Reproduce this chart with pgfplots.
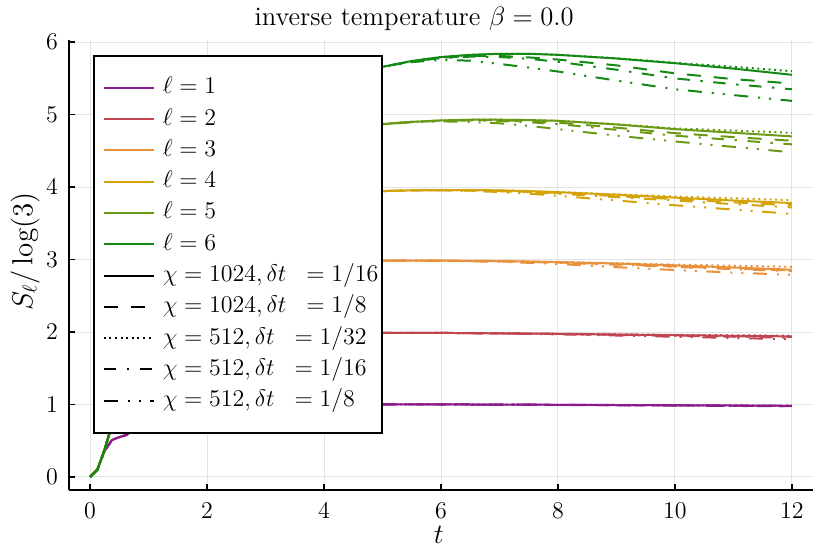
\RequirePackage{fix-cm}
\documentclass[border=0pt]{standalone}
\usepackage{pgfplots}
\pgfplotsset{compat=1.18}
\usepackage{pgfplotstable}

\definecolor{c1}{HTML}{8B1A8B}
\definecolor{c2}{HTML}{C04452}
\definecolor{c3}{HTML}{E8903A}
\definecolor{c4}{HTML}{D4A30A}
\definecolor{c5}{HTML}{6A9A14}
\definecolor{c6}{HTML}{148A14}

\tikzset{
 s1/.style={solid},
 s2/.style={dash pattern=on 7pt off 6.5pt},
 s3/.style={dash pattern=on 1pt off 1.8pt},
 s4/.style={dash pattern=on 6.2pt off 5.3pt on 1.2pt off 5.3pt},
 s5/.style={dash pattern=on 7pt off 5pt on 1pt off 4.5pt on 1pt off 4.8pt},
}

% columns: a = chi1024 dt1/16, b = chi1024 dt1/8, c = chi512 dt1/32, d = chi512 dt1/16, e = chi512 dt1/8
\pgfplotstableread{
t a b c d e
0 0 0 0 0 0
0.125 0.10 0.10 0.10 0.10 0.10
0.25 0.36 0.36 0.36 0.36 0.36
0.375 0.51 0.51 0.51 0.51 0.51
0.5 0.55 0.55 0.55 0.55 0.55
0.625 0.58 0.58 0.58 0.58 0.58
0.75 0.66 0.66 0.66 0.66 0.66
1 0.86 0.86 0.86 0.86 0.86
1.25 0.96 0.96 0.96 0.96 0.96
1.5 0.99 0.99 0.99 0.99 0.99
2 1.0 1.0 1.0 1.0 1.0
2.5 1.0 1.0 1.0 1.0 1.0
3 1.003 1.003 1.003 1.003 1.003
3.5 1.004 1.004 1.004 1.004 1.004
4 1.004 1.004 1.004 1.004 1.004
4.5 1.004 1.004 1.004 1.004 1.004
5 1.003 1.003 1.003 1.003 1.003
5.5 1.003 1.003 1.003 1.003 1.002
6 1.002 1.002 1.002 1.001 1.0
6.5 1.0 1.0 1.0 1.0 0.999
7 1.0 0.999 1.0 0.999 0.998
7.5 0.998 0.997 0.998 0.997 0.996
8 0.996 0.995 0.996 0.995 0.993
9 0.993 0.992 0.993 0.991 0.989
10 0.99 0.988 0.99 0.987 0.985
11 0.986 0.984 0.987 0.982 0.98
12 0.982 0.98 0.984 0.978 0.975
}\Lone

\pgfplotstableread{
t a b c d e
0 0 0 0 0 0
0.125 0.10 0.10 0.10 0.10 0.10
0.25 0.38 0.38 0.38 0.38 0.38
0.375 0.72 0.72 0.72 0.72 0.72
0.5 1.0 1.0 1.0 1.0 1.0
0.625 1.24 1.24 1.24 1.24 1.24
0.75 1.44 1.44 1.44 1.44 1.44
1 1.74 1.74 1.74 1.74 1.74
1.25 1.90 1.90 1.90 1.90 1.90
1.5 1.96 1.96 1.96 1.96 1.96
2 1.99 1.99 1.99 1.99 1.99
2.5 2.0 2.0 2.0 2.0 2.0
3 2.0 2.0 2.0 2.0 2.0
3.5 2.0 2.0 2.0 2.0 2.0
4 1.995 1.995 1.995 1.995 1.995
4.5 1.993 1.993 1.993 1.993 1.993
5 1.99 1.99 1.99 1.99 1.99
5.5 1.99 1.99 1.99 1.99 1.99
6 1.988 1.988 1.988 1.988 1.987
6.5 1.985 1.985 1.985 1.984 1.984
7 1.982 1.981 1.982 1.980 1.980
7.5 1.979 1.978 1.979 1.976 1.975
8 1.975 1.974 1.976 1.972 1.968
9 1.966 1.963 1.968 1.96 1.952
10 1.957 1.952 1.96 1.948 1.935
11 1.948 1.942 1.955 1.935 1.918
12 1.94 1.932 1.95 1.922 1.90
}\Ltwo

\pgfplotstableread{
t a b c d e
0 0 0 0 0 0
0.125 0.10 0.10 0.10 0.10 0.10
0.25 0.38 0.38 0.38 0.38 0.38
0.375 0.72 0.72 0.72 0.72 0.72
0.5 1.02 1.02 1.02 1.02 1.02
0.625 1.30 1.30 1.30 1.30 1.30
0.75 1.56 1.56 1.56 1.56 1.56
1 2.0 2.0 2.0 2.0 2.0
1.25 2.36 2.36 2.36 2.36 2.36
1.5 2.62 2.62 2.62 2.62 2.62
2 2.86 2.86 2.86 2.86 2.86
2.5 2.95 2.95 2.95 2.95 2.95
3 2.98 2.98 2.98 2.98 2.98
3.5 2.99 2.99 2.99 2.99 2.99
4 2.99 2.99 2.99 2.99 2.99
4.5 2.99 2.99 2.99 2.99 2.99
5 2.986 2.986 2.986 2.986 2.986
5.5 2.986 2.986 2.986 2.986 2.985
6 2.985 2.984 2.985 2.984 2.982
6.5 2.983 2.981 2.983 2.980 2.976
7 2.979 2.977 2.979 2.976 2.968
7.5 2.973 2.97 2.973 2.968 2.955
8 2.965 2.96 2.966 2.957 2.94
9 2.945 2.935 2.95 2.93 2.895
10 2.92 2.905 2.93 2.898 2.855
11 2.89 2.877 2.915 2.868 2.82
12 2.86 2.85 2.90 2.84 2.79
}\Lthree

\pgfplotstableread{
t a b c d e
0 0 0 0 0 0
0.125 0.10 0.10 0.10 0.10 0.10
0.25 0.38 0.38 0.38 0.38 0.38
0.375 0.72 0.72 0.72 0.72 0.72
0.5 1.02 1.02 1.02 1.02 1.02
0.625 1.30 1.30 1.30 1.30 1.30
0.75 1.56 1.56 1.56 1.56 1.56
1 2.05 2.05 2.05 2.05 2.05
1.25 2.5 2.5 2.5 2.5 2.5
1.5 2.86 2.86 2.86 2.86 2.86
2 3.36 3.36 3.36 3.36 3.36
2.5 3.66 3.66 3.66 3.66 3.66
3 3.82 3.82 3.82 3.82 3.82
3.5 3.9 3.9 3.9 3.9 3.9
4 3.93 3.93 3.93 3.93 3.93
4.5 3.94 3.94 3.94 3.94 3.94
5 3.945 3.945 3.945 3.945 3.945
5.5 3.955 3.954 3.955 3.954 3.953
6 3.96 3.958 3.96 3.957 3.955
6.5 3.96 3.955 3.96 3.952 3.947
7 3.955 3.948 3.955 3.943 3.932
7.5 3.945 3.935 3.945 3.928 3.91
8 3.93 3.92 3.932 3.91 3.88
9 3.895 3.875 3.90 3.862 3.815
10 3.855 3.835 3.87 3.815 3.75
11 3.815 3.79 3.845 3.765 3.69
12 3.78 3.75 3.82 3.72 3.63
}\Lfour

\pgfplotstableread{
t a b c d e
0 0 0 0 0 0
0.125 0.10 0.10 0.10 0.10 0.10
0.25 0.38 0.38 0.38 0.38 0.38
0.375 0.72 0.72 0.72 0.72 0.72
0.5 1.02 1.02 1.02 1.02 1.02
0.625 1.30 1.30 1.30 1.30 1.30
0.75 1.56 1.56 1.56 1.56 1.56
1 2.07 2.07 2.07 2.07 2.07
1.25 2.55 2.55 2.55 2.55 2.55
1.5 3.0 3.0 3.0 3.0 3.0
2 3.7 3.7 3.7 3.7 3.7
2.5 4.2 4.2 4.2 4.2 4.2
3 4.5 4.5 4.5 4.5 4.5
3.5 4.68 4.68 4.68 4.68 4.68
4 4.78 4.78 4.78 4.78 4.78
4.5 4.83 4.83 4.83 4.83 4.83
5 4.87 4.87 4.87 4.87 4.865
5.5 4.90 4.90 4.90 4.90 4.895
6 4.92 4.918 4.92 4.915 4.907
6.5 4.93 4.925 4.93 4.92 4.90
7 4.93 4.922 4.93 4.912 4.88
7.5 4.925 4.91 4.925 4.895 4.845
8 4.915 4.89 4.915 4.87 4.80
9 4.865 4.82 4.868 4.79 4.71
10 4.80 4.745 4.81 4.71 4.63
11 4.75 4.69 4.78 4.65 4.555
12 4.70 4.64 4.75 4.59 4.48
}\Lfive

\pgfplotstableread{
t a b c d e
0 0 0 0 0 0
0.125 0.10 0.10 0.10 0.10 0.10
0.25 0.38 0.38 0.38 0.38 0.38
0.375 0.72 0.72 0.72 0.72 0.72
0.5 1.02 1.02 1.02 1.02 1.02
0.625 1.30 1.30 1.30 1.30 1.30
0.75 1.56 1.56 1.56 1.56 1.56
1 2.07 2.07 2.07 2.07 2.07
1.25 2.58 2.58 2.58 2.58 2.58
1.5 3.06 3.06 3.06 3.06 3.06
2 3.86 3.86 3.86 3.86 3.86
2.5 4.46 4.46 4.46 4.46 4.46
3 4.9 4.9 4.9 4.9 4.9
3.5 5.2 5.2 5.2 5.2 5.2
4 5.42 5.42 5.42 5.42 5.42
4.5 5.56 5.56 5.56 5.56 5.56
5 5.66 5.66 5.66 5.66 5.655
5.5 5.74 5.735 5.74 5.735 5.725
6 5.795 5.785 5.795 5.78 5.755
6.5 5.825 5.81 5.825 5.80 5.745
7 5.84 5.81 5.84 5.795 5.70
7.5 5.84 5.79 5.84 5.77 5.65
8 5.825 5.76 5.826 5.73 5.595
9 5.775 5.68 5.778 5.62 5.47
10 5.71 5.57 5.715 5.50 5.35
11 5.635 5.49 5.66 5.42 5.27
12 5.55 5.43 5.60 5.35 5.19
}\Lsix

\newcommand\ellplots[2]{%
 \addplot[#2, s1, forget plot] table[x=t,y=a]{#1};
 \addplot[#2, s2, forget plot] table[x=t,y=b]{#1};
 \addplot[#2, s3, forget plot] table[x=t,y=c]{#1};
 \addplot[#2, s4, forget plot] table[x=t,y=d]{#1};
 \addplot[#2, s5, forget plot] table[x=t,y=e]{#1};
}

\begin{document}
\begin{tikzpicture}
\useasboundingbox (-34.5pt,-32pt) rectangle (380.5pt,245pt);
\begin{axis}[
 at={(0pt,0pt)}, anchor=south west,
 scale only axis, width=372pt, height=225pt,
 xmin=-0.36, xmax=12.36, ymin=-0.18, ymax=6.03,
 axis x line*=bottom, axis y line*=left,
 axis line style={-, line width=0.8pt, black},
 xtick={0,2,4,6,8,10,12}, ytick={0,1,2,3,4,5,6},
 tick align=inside, major tick length=3pt,
 tick style={black, line width=0.8pt},
 grid=major, major grid style={black!11, line width=0.5pt},
 ticklabel style={font=\fontsize{12}{14}\selectfont},
 yticklabel style={xshift=-2pt},
 xticklabel style={yshift=-3pt},
 title={inverse temperature $\beta = 0.0$},
 title style={at={(rel axis cs:0.4638,1.0333)}, anchor=base, yshift=-6pt, font=\fontsize{13.3}{16}\selectfont},
 xlabel={$t$},
 xlabel style={at={(rel axis cs:0.497,-0.1)}, anchor=center, font=\fontsize{14}{16}\selectfont},
 ylabel={$S_\ell/\log(3)$},
 ylabel style={at={(rel axis cs:-0.0591,0.53)}, anchor=center, font=\fontsize{14.5}{17}\selectfont},
 no markers,
 every axis plot/.append style={line width=1pt, line join=round},
 legend style={at={(rel axis cs:0.0323,0.9667)}, anchor=north west, draw=black, line width=0.8pt, fill=white,
   inner xsep=4.5pt, inner ysep=10pt, row sep=3.65pt, font=\fontsize{12}{14}\selectfont,
   nodes={inner sep=0pt, text height=9pt, text depth=3pt, text width=105pt, align=left},
   /tikz/every odd column/.append style={column sep=4pt}},
 legend cell align=left,
 legend image code/.code={\draw[#1, line width=1pt] (0pt,0pt) -- (25pt,0pt);},
]
\ellplots{\Lone}{c1}
\ellplots{\Ltwo}{c2}
\ellplots{\Lthree}{c3}
\ellplots{\Lfour}{c4}
\ellplots{\Lfive}{c5}
\ellplots{\Lsix}{c6}

\addlegendimage{c1, solid}\addlegendentry{\mbox{$\ell = 1$}}
\addlegendimage{c2, solid}\addlegendentry{\mbox{$\ell = 2$}}
\addlegendimage{c3, solid}\addlegendentry{\mbox{$\ell = 3$}}
\addlegendimage{c4, solid}\addlegendentry{\mbox{$\ell = 4$}}
\addlegendimage{c5, solid}\addlegendentry{\mbox{$\ell = 5$}}
\addlegendimage{c6, solid}\addlegendentry{\mbox{$\ell = 6$}}
\addlegendimage{black, s1}\addlegendentry{\mbox{$\chi = 1024, \delta t\mskip10mu = 1/16$}}
\addlegendimage{black, s2}\addlegendentry{\mbox{$\chi = 1024, \delta t\mskip10mu = 1/8$}}
\addlegendimage{black, s3}\addlegendentry{\mbox{$\chi = 512, \delta t\mskip10mu = 1/32$}}
\addlegendimage{black, s4}\addlegendentry{\mbox{$\chi = 512, \delta t\mskip10mu = 1/16$}}
\addlegendimage{black, s5}\addlegendentry{\mbox{$\chi = 512, \delta t\mskip10mu = 1/8$}}
\end{axis}
\end{tikzpicture}
\end{document}
